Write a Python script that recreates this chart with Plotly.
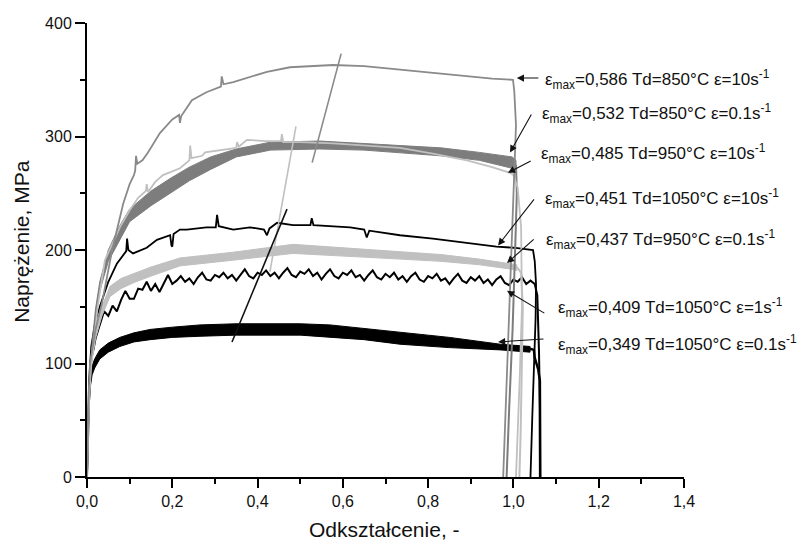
import plotly.graph_objects as go

# ---------------- data ----------------
# 0,586 Td=850°C 10 s^-1 (gray thin line)
c1_strain = [0, 0.002, 0.004, 0.007, 0.02, 0.035, 0.059, 0.085, 0.1, 0.11,
             0.113, 0.115, 0.118, 0.13, 0.143, 0.171, 0.2, 0.216, 0.218, 0.221,
             0.246, 0.28, 0.314, 0.316, 0.32, 0.343, 0.38, 0.422, 0.476, 0.53,
             0.577, 0.65, 0.734, 0.811, 0.891, 0.95, 0.999, 1.002, 1.006, 1.004,
             1.0, 0.995, 0.988, 0.982, 0.976]
c1_stress = [0, 40, 75, 100, 130, 153, 200, 241, 258, 266,
             270, 283, 276, 279, 286, 303, 315, 319, 312, 318,
             332, 339, 344, 353, 346, 348, 352, 357, 361, 362,
             363, 362, 359, 356, 353, 351, 350, 340, 310, 290,
             250, 200, 130, 60, 0]

# 0,532 Td=850°C 0.1 s^-1 (dark gray noisy band: upper / lower envelope)
c2_strain = [0, 0.003, 0.007, 0.012, 0.02, 0.03, 0.05, 0.075, 0.1, 0.15,
             0.195, 0.24, 0.29, 0.35, 0.43, 0.546, 0.65, 0.734, 0.83, 0.92,
             0.997, 1.006]
c2_upper = [0, 50, 90, 118, 148, 172, 200, 220, 236, 252,
            263, 273, 282, 289, 295, 296, 294, 292, 290, 286,
            282, 279]
c2_lower = [0, 45, 85, 112, 140, 164, 190, 208, 225, 239,
            250, 261, 271, 282, 288, 289, 288, 286, 283, 279,
            272, 270]
c2_drop_strain = [1.006, 1.008, 1.004, 0.998, 0.99, 0.984]
c2_drop_stress = [275, 250, 200, 130, 60, 0]

# 0,485 Td=950°C 10 s^-1 (light gray thin line)
c3_strain = [0, 0.002, 0.005, 0.009, 0.014, 0.025, 0.042, 0.06, 0.077, 0.1,
             0.12, 0.138, 0.14, 0.143, 0.16, 0.178, 0.218, 0.24, 0.242, 0.245,
             0.27, 0.277, 0.32, 0.35, 0.352, 0.356, 0.375, 0.42, 0.455, 0.457,
             0.46, 0.5, 0.577, 0.65, 0.734, 0.811, 0.891, 0.95, 0.992, 1.0,
             1.01, 1.018, 1.02, 1.015, 1.01, 1.006]
c3_stress = [0, 35, 70, 95, 112, 150, 191, 206, 220, 235,
             246, 252, 258, 251, 260, 266, 272, 279, 292, 281,
             283, 286, 288, 290, 295, 291, 297, 296, 296, 302,
             295, 295, 294, 292, 290, 285, 279, 273, 268, 266,
             255, 220, 150, 90, 30, 0]

# 0,451 Td=1050°C 10 s^-1 (black thin line)
c4_strain = [0, 0.002, 0.005, 0.01, 0.02, 0.03, 0.05, 0.07, 0.085, 0.092,
             0.094, 0.097, 0.108, 0.14, 0.164, 0.195, 0.198, 0.2, 0.203, 0.218,
             0.234, 0.28, 0.302, 0.305, 0.309, 0.343, 0.382, 0.415, 0.422, 0.428,
             0.446, 0.483, 0.524, 0.527, 0.531, 0.58, 0.617, 0.65, 0.656, 0.662,
             0.7, 0.734, 0.811, 0.891, 0.96, 1.0, 1.046, 1.05, 1.053, 1.052,
             1.048, 1.044, 1.04]
c4_stress = [0, 45, 85, 115, 138, 150, 172, 188, 196, 199,
             210, 200, 197, 202, 209, 213, 204, 203, 214, 218,
             218, 220, 220, 231, 221, 218, 220, 218, 213, 219,
             224, 222, 222, 228, 222, 221, 220, 218, 211, 217,
             215, 213, 210, 206, 203, 202, 200, 190, 170, 140,
             100, 50, 0]

# 0,437 Td=950°C 0.1 s^-1 (light gray band)
c5_strain = [0, 0.003, 0.006, 0.01, 0.02, 0.035, 0.054, 0.08, 0.108, 0.15,
             0.218, 0.342, 0.483, 0.6, 0.734, 0.83, 0.92, 0.997, 1.008]
c5_upper = [0, 45, 80, 105, 130, 150, 168, 175, 179, 185,
            193, 198, 205, 202, 198, 196, 192, 188, 187]
c5_lower = [0, 40, 74, 98, 122, 142, 159, 166, 171, 177,
            186, 191, 197, 195, 192, 190, 187, 183, 182]
c5_drop_strain = [1.008, 1.018, 1.022, 1.02, 1.017, 1.014]
c5_drop_stress = [185, 180, 150, 100, 40, 0]

# 0,409 Td=1050°C 1 s^-1 (black serrated line)
c6_strain = [0, 0.003, 0.006, 0.01, 0.015, 0.02, 0.025,
             0.03, 0.04, 0.05, 0.06, 0.07, 0.08, 0.09, 0.10,
             0.11, 0.12, 0.13, 0.14, 0.15, 0.16, 0.17, 0.18, 0.19, 0.20,
             0.21, 0.22, 0.23, 0.24, 0.25, 0.26, 0.27, 0.28, 0.29, 0.30,
             0.31, 0.32, 0.33, 0.34, 0.35, 0.36, 0.37, 0.38, 0.39, 0.40,
             0.41, 0.42, 0.43, 0.44, 0.45, 0.46, 0.47, 0.48, 0.49, 0.50,
             0.51, 0.52, 0.53, 0.54, 0.55, 0.56, 0.57, 0.58, 0.59, 0.60,
             0.61, 0.62, 0.63, 0.64, 0.65, 0.66, 0.67, 0.68, 0.69, 0.70,
             0.71, 0.72, 0.73, 0.74, 0.75, 0.76, 0.77, 0.78, 0.79, 0.80,
             0.81, 0.82, 0.83, 0.84, 0.85, 0.86, 0.87, 0.88, 0.89, 0.90,
             0.91, 0.92, 0.93, 0.94, 0.95, 0.96, 0.97, 0.98, 0.99, 1.00,
             1.01, 1.02, 1.03, 1.04,
             1.05, 1.056, 1.058, 1.06, 1.062, 1.062]
c6_stress = [0, 50, 85, 105, 112, 122, 128,
             133, 146, 142, 151, 146, 156, 164, 157,
             157, 166, 165, 172, 164, 170, 163, 171, 178, 170,
             173, 177, 172, 175, 170, 176, 180, 174, 173, 178,
             176, 180, 175, 178, 173, 178, 183, 177, 175, 180,
             178, 182, 177, 180, 175, 180, 184, 178, 176, 181,
             179, 183, 177, 180, 174, 179, 183, 177, 175, 180,
             178, 182, 176, 178, 173, 178, 182, 176, 174, 179,
             176, 180, 174, 177, 172, 177, 180, 174, 172, 177,
             175, 179, 173, 175, 170, 175, 179, 173, 171, 176,
             173, 177, 171, 174, 169, 174, 177, 171, 169, 174,
             172, 176, 170, 173,
             170, 160, 140, 110, 60, 0]

# 0,349 Td=1050°C 0.1 s^-1 (black band)
c7_strain = [0, 0.002, 0.005, 0.008, 0.012, 0.018, 0.03, 0.05, 0.077, 0.11,
             0.148, 0.2, 0.265, 0.35, 0.422, 0.5, 0.57, 0.65, 0.734, 0.85,
             0.969, 1.039]
c7_upper = [0, 40, 70, 88, 98, 104, 112, 118, 123, 127,
            130, 132, 134, 135, 135, 135, 134, 131, 128, 123,
            117, 115]
c7_lower = [0, 35, 62, 80, 90, 96, 104, 110, 115, 119,
            121, 123, 124, 125, 125, 125, 123, 121, 117, 114,
            112, 110]
c7_drop_strain = [1.039, 1.048, 1.05, 1.058, 1.062, 1.063]
c7_drop_stress = [113, 112, 105, 95, 85, 0]

# epsilon_max marker lines
mA_strain, mA_stress = [0.528, 0.596], [277, 373]
mB_strain, mB_stress = [0.429, 0.49], [181, 309]
mC_strain, mC_stress = [0.34, 0.469], [119, 236]

# labels: text, text anchor (strain, stress), arrow tail, arrow head
label_texts = [
    "ε<sub>max</sub>=0,586 Td=850°C ε=10s<sup>-1</sup>",
    "ε<sub>max</sub>=0,532 Td=850°C ε=0.1s<sup>-1</sup>",
    "ε<sub>max</sub>=0,485 Td=950°C ε=10s<sup>-1</sup>",
    "ε<sub>max</sub>=0,451 Td=1050°C ε=10s<sup>-1</sup>",
    "ε<sub>max</sub>=0,437 Td=950°C ε=0.1s<sup>-1</sup>",
    "ε<sub>max</sub>=0,409 Td=1050°C ε=1s<sup>-1</sup>",
    "ε<sub>max</sub>=0,349 Td=1050°C ε=0.1s<sup>-1</sup>",
]
label_x = [1.069, 1.062, 1.060, 1.069, 1.072, 1.100, 1.100]
label_y = [350.0, 320.0, 285.0, 245.0, 209.5, 149.5, 117.0]
tail_x = [1.062, 1.044, 1.044, 1.051, 1.051, 1.076, 1.074]
tail_y = [351.5, 320.7, 279.0, 246.0, 210.6, 143.6, 121.6]
head_x = [1.008, 0.992, 0.987, 0.964, 0.985, 0.985, 0.964]
head_y = [351.5, 286.0, 268.0, 204.0, 188.5, 164.0, 119.0]

x_ticks = [0, 0.2, 0.4, 0.6, 0.8, 1.0, 1.2, 1.4]
y_ticks = [0, 100, 200, 300, 400]

GRAY = "#8a8a8a"
DGRAY = "#7d7d7d"
LGRAY = "#c0c0c0"
BLACK = "#000000"
FONT = "Liberation Sans, Arial, sans-serif"

fig = go.Figure()


def band(xs, up, lo, color):
    fig.add_trace(go.Scatter(
        x=list(xs) + list(xs)[::-1], y=list(up) + list(lo)[::-1],
        fill="toself", fillcolor=color, mode="lines",
        line=dict(color=color, width=1), hoverinfo="skip", showlegend=False))


def line(xs, ys, color, width):
    fig.add_trace(go.Scatter(x=xs, y=ys, mode="lines",
                             line=dict(color=color, width=width),
                             showlegend=False))


band(c7_strain, c7_upper, c7_lower, BLACK)
line(c7_drop_strain, c7_drop_stress, BLACK, 2.5)
line(c6_strain, c6_stress, BLACK, 2)
band(c5_strain, c5_upper, c5_lower, LGRAY)
line(c5_drop_strain, c5_drop_stress, LGRAY, 2)
line(c4_strain, c4_stress, BLACK, 1.8)
band(c2_strain, c2_upper, c2_lower, DGRAY)
line(c2_drop_strain, c2_drop_stress, DGRAY, 2)
line(c3_strain, c3_stress, LGRAY, 1.8)
line(c1_strain, c1_stress, GRAY, 1.8)
line(mA_strain, mA_stress, GRAY, 1.6)
line(mB_strain, mB_stress, LGRAY, 1.6)
line(mC_strain, mC_stress, "#111111", 1.6)

annotations = []
for t, lx, ly in zip(label_texts, label_x, label_y):
    annotations.append(dict(x=lx, y=ly, xref="x", yref="y", text=t,
                            showarrow=False, xanchor="left", yanchor="middle",
                            font=dict(family=FONT, size=17, color="#111111")))
for tx, ty, hx, hy in zip(tail_x, tail_y, head_x, head_y):
    annotations.append(dict(x=hx, y=hy, ax=tx, ay=ty, xref="x", yref="y",
                            axref="x", ayref="y", text="", showarrow=True,
                            arrowhead=2, arrowsize=1.3, arrowwidth=1.1,
                            arrowcolor="#111111", standoff=0, startstandoff=0))
annotations.append(dict(x=0.498, y=-0.1167, xref="paper", yref="paper",
                        text="Odkształcenie, -", showarrow=False,
                        xanchor="center", yanchor="middle",
                        font=dict(family=FONT, size=21, color="#111111")))
annotations.append(dict(x=-0.109, y=0.52, xref="paper", yref="paper",
                        text="Naprężenie, MPa", showarrow=False, textangle=-90,
                        xanchor="center", yanchor="middle",
                        font=dict(family=FONT, size=21, color="#111111")))

fig.update_layout(
    width=800, height=544,
    margin=dict(l=87, r=116, t=23, b=67),
    paper_bgcolor="white", plot_bgcolor="white",
    separators=", ",
    font=dict(family=FONT, size=16, color="#111111"),
    annotations=annotations,
    showlegend=False,
)
fig.update_xaxes(
    range=[0, 1.4], tickvals=x_ticks, tickformat=".1f",
    showgrid=False, zeroline=False, showline=True, linecolor="black",
    linewidth=2, ticks="outside", ticklen=9, tickwidth=2, tickcolor="black",
    minor=dict(dtick=0.1, ticks="outside", ticklen=5, tickwidth=2,
               tickcolor="black", showgrid=False),
    tickfont=dict(family=FONT, size=16, color="#111111"),
)
fig.update_yaxes(
    range=[0, 400], tickvals=y_ticks,
    showgrid=False, zeroline=False, showline=True, linecolor="black",
    linewidth=2, ticks="outside", ticklen=10, tickwidth=2, tickcolor="black",
    minor=dict(dtick=50, ticks="outside", ticklen=5, tickwidth=2,
               tickcolor="black", showgrid=False),
    tickfont=dict(family=FONT, size=16, color="#111111"),
)

fig.write_html(
    "out.html",
    config={"displayModeBar": False},
    post_script="document.body.style.margin='0px';"
                "document.body.style.overflow='hidden';",
)
